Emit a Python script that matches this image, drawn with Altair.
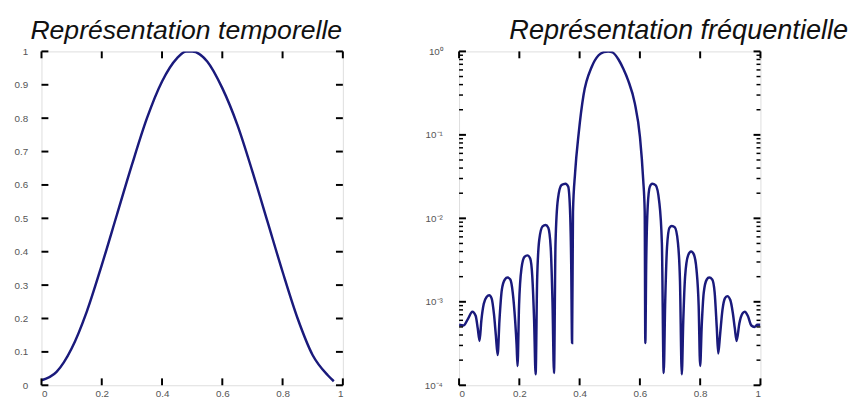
import altair as alt
import pandas as pd

NAVY = "#1a1a7c"
FONT = "Liberation Sans"

# ---- time-domain window ----
t_x = [0, 0.05, 0.10, 0.15, 0.20, 0.25, 0.30, 0.35, 0.40, 0.45, 0.48, 0.50,
       0.55, 0.60, 0.65, 0.70, 0.75, 0.80, 0.85, 0.90, 0.95, 0.97]
t_y = [0.015, 0.04, 0.11, 0.22, 0.36, 0.51, 0.66, 0.80, 0.91, 0.98, 1.0, 1.0,
       0.97, 0.89, 0.78, 0.64, 0.49, 0.34, 0.20, 0.09, 0.03, 0.012]

# ---- frequency response (log scale) ----
f_x = [0.000, 0.015, 0.030, 0.044, 0.055, 0.062, 0.068,
       0.074, 0.082, 0.092, 0.100, 0.108, 0.116, 0.122, 0.128,
       0.134, 0.142, 0.152, 0.161, 0.170, 0.178, 0.186, 0.191, 0.194,
       0.199, 0.207, 0.217, 0.227, 0.236, 0.243, 0.249, 0.254,
       0.259, 0.266, 0.277, 0.287, 0.296, 0.304, 0.310, 0.315,
       0.320, 0.328, 0.340, 0.353, 0.362, 0.368, 0.372, 0.375,
       0.378, 0.385, 0.397, 0.413, 0.440, 0.463, 0.480, 0.495, 0.510, 0.529,
       0.545, 0.561, 0.583, 0.600, 0.611, 0.616, 0.618,
       0.621, 0.626, 0.633, 0.641, 0.652, 0.664, 0.673, 0.679,
       0.684, 0.690, 0.698, 0.706, 0.716, 0.726, 0.733, 0.739,
       0.744, 0.750, 0.760, 0.770, 0.779, 0.788, 0.795, 0.800,
       0.805, 0.812, 0.822, 0.830, 0.840, 0.848, 0.855, 0.860,
       0.866, 0.874, 0.882, 0.890, 0.900, 0.908, 0.915, 0.921,
       0.930, 0.940, 0.948, 0.958, 0.970, 0.980, 0.990, 1.000]
f_y = [5.3e-4, 5.2e-4, 6.3e-4, 7.6e-4, 6.8e-4, 4.8e-4, 3.4e-4,
       6e-4, 9.5e-4, 1.15e-3, 1.2e-3, 1.1e-3, 7e-4, 4e-4, 2.3e-4,
       6e-4, 1.4e-3, 1.85e-3, 1.95e-3, 1.85e-3, 1.3e-3, 6e-4, 3e-4, 1.7e-4,
       9e-4, 2.5e-3, 3.45e-3, 3.6e-3, 3.3e-3, 2e-3, 6e-4, 1.35e-4,
       1.8e-3, 5.5e-3, 8e-3, 8.3e-3, 7.7e-3, 4.5e-3, 1e-3, 1.4e-4,
       5e-3, 1.7e-2, 2.5e-2, 2.6e-2, 2.4e-2, 1.3e-2, 3e-3, 3.2e-4,
       0.012, 0.035, 0.105, 0.3, 0.65, 0.9, 0.98, 1.0, 0.97, 0.8,
       0.62, 0.45, 0.24, 0.096, 0.029, 0.012, 3.2e-4,
       3e-3, 1.4e-2, 2.4e-2, 2.6e-2, 2.5e-2, 1.6e-2, 5e-3, 1.4e-4,
       1e-3, 4.5e-3, 7.7e-3, 8.1e-3, 7.8e-3, 5.2e-3, 1.8e-3, 1.35e-4,
       6e-4, 2e-3, 3.6e-3, 4e-3, 3.7e-3, 2.4e-3, 9e-4, 1.7e-4,
       5e-4, 1.3e-3, 1.85e-3, 1.95e-3, 1.85e-3, 1.3e-3, 5e-4, 2.4e-4,
       4e-4, 8e-4, 1.1e-3, 1.17e-3, 1.05e-3, 7.5e-4, 4.8e-4, 3.4e-4,
       5.5e-4, 7.2e-4, 7.6e-4, 6.8e-4, 5.2e-4, 5e-4, 5.3e-4, 5.3e-4]
assert len(f_x) == len(f_y)

# ---- ticks ----
x_ticks = [0, 0.2, 0.4, 0.6, 0.8, 1]
yt_ticks = [0, 0.1, 0.2, 0.3, 0.4, 0.5, 0.6, 0.7, 0.8, 0.9, 1]
yf_major = [1e-4, 1e-3, 1e-2, 1e-1, 1]
yf_labels = ["10⁻⁴", "10⁻³", "10⁻²", "10⁻¹", "10⁰"]
yf_minor = [m * d for d in [1e-4, 1e-3, 1e-2, 1e-1] for m in range(2, 10)]

W, H = 306, 339
MAJ, MIN = 7, 4

xscale = alt.Scale(domain=[0, 1], nice=False, zero=False)
yt_scale = alt.Scale(domain=[0, 1], nice=False)
yf_scale = alt.Scale(type="log", domain=[1e-4, 1], nice=False)

axis_common = dict(title=None, tickSize=0, domain=False, grid=False,
                   labelColor="#555", labelFontSize=10, labelFont=FONT)

x_axis = alt.Axis(values=x_ticks, format="~g", labelPadding=3, **axis_common)
yt_axis = alt.Axis(values=yt_ticks, format="~g", labelPadding=14, **axis_common)
label_expr = " : ".join(
    f"datum.value >= {v * 0.5} ? '{lab}'" for v, lab in zip(yf_major[::-1], yf_labels[::-1])
) + " : ''"
yf_axis = alt.Axis(values=yf_major, labelExpr=label_expr, labelPadding=17, **axis_common)


def x_tick_layers():
    d = pd.DataFrame({"v": x_ticks})
    base = alt.Chart(d).mark_rule(color="black", strokeWidth=2)
    top = base.encode(x=alt.X("v:Q", scale=xscale, axis=x_axis),
                      y=alt.value(0), y2=alt.value(MAJ))
    bot = base.encode(x=alt.X("v:Q", scale=xscale, axis=x_axis),
                      y=alt.value(H), y2=alt.value(H - MAJ))
    return [top, bot]


def y_tick_layers(vals, scale, axis, length, width=2):
    d = pd.DataFrame({"v": vals})
    base = alt.Chart(d).mark_rule(color="black", strokeWidth=width)
    left = base.encode(y=alt.Y("v:Q", scale=scale, axis=axis),
                       x=alt.value(0), x2=alt.value(length))
    right = base.encode(y=alt.Y("v:Q", scale=scale, axis=axis),
                        x=alt.value(W), x2=alt.value(W - length))
    return [left, right]


df_t = pd.DataFrame({"x": t_x, "y": t_y})
line_t = alt.Chart(df_t).mark_line(color=NAVY, strokeWidth=2.5,
                                   interpolate="monotone", clip=True).encode(
    x=alt.X("x:Q", scale=xscale, axis=x_axis),
    y=alt.Y("y:Q", scale=yt_scale, axis=yt_axis),
)

left = alt.layer(line_t, *x_tick_layers(), *y_tick_layers(yt_ticks, yt_scale, yt_axis, MAJ)).properties(
    width=W, height=H,
    title=alt.TitleParams("Représentation temporelle", font=FONT, fontSize=27,
                          fontStyle="italic", fontWeight="normal", color="#111",
                          anchor="middle", dx=-6, offset=2),
)

df_f = pd.DataFrame({"x": f_x, "y": f_y})
line_f = alt.Chart(df_f).mark_line(color=NAVY, strokeWidth=2.5,
                                   interpolate="monotone", clip=True).encode(
    x=alt.X("x:Q", scale=xscale, axis=x_axis),
    y=alt.Y("y:Q", scale=yf_scale, axis=yf_axis),
)

right = alt.layer(line_f, *x_tick_layers(),
                  *y_tick_layers(yf_major, yf_scale, yf_axis, MAJ),
                  *y_tick_layers(yf_minor, yf_scale, yf_axis, MIN, 1.5)).properties(
    width=W, height=H,
    title=alt.TitleParams("Représentation fréquentielle", font=FONT, fontSize=27.5,
                          fontStyle="italic", fontWeight="normal", color="#111",
                          anchor="middle", dx=70, offset=2),
)

chart = alt.hconcat(left, right, spacing=80).configure_view(
    stroke="black", strokeWidth=2
).configure(background="white")

chart.save("out.html", embed_options={"renderer": "svg", "actions": False})
